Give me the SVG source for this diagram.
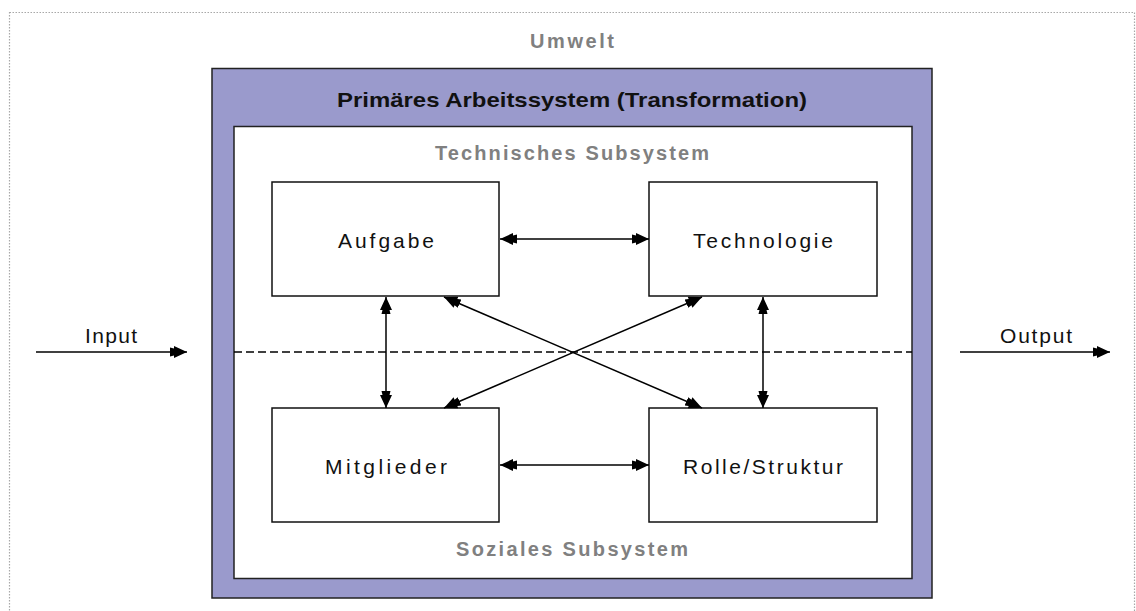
<svg xmlns="http://www.w3.org/2000/svg" width="1136" height="611" viewBox="0 0 1136 611">
<defs>
<marker id="ah" viewBox="0 0 17 12" refX="17" refY="6" markerWidth="17" markerHeight="12" markerUnits="userSpaceOnUse" orient="auto-start-reverse">
<path d="M0,1.5 L4,2.5 L4,0 L17,6 L4,12 L4,9.5 L0,10.5 Z" fill="#000"/>
</marker>
<style>
.lbl{font-family:"Liberation Sans",Arial,sans-serif;font-size:21px;fill:#111;text-anchor:middle}
.gray{font-family:"Liberation Sans",Arial,sans-serif;font-size:20px;font-weight:bold;fill:#808080;text-anchor:middle}
.box{fill:#fff;stroke:#111;stroke-width:1.5}
.conn line{stroke:#000;stroke-width:1.5}
</style>
</defs>
<rect width="1136" height="611" fill="#fff"/>
<g id="umwelt">
<rect x="9.5" y="12.5" width="1125" height="620" fill="none" stroke="#a8a8a8" stroke-width="1.2" stroke-dasharray="1.5 1.5"/>
<text class="gray" x="572" y="48" textLength="84" lengthAdjust="spacing">Umwelt</text>
</g>
<g id="primaer">
<rect x="212" y="68.5" width="720" height="529.5" fill="#9a9acc" stroke="#222" stroke-width="1.5"/>
<text x="572" y="107" font-family="'Liberation Sans',Arial,sans-serif" font-size="21" font-weight="bold" fill="#111" text-anchor="middle" textLength="470" lengthAdjust="spacingAndGlyphs">Primäres Arbeitssystem (Transformation)</text>
</g>
<g id="inner">
<rect x="234" y="126.5" width="678" height="452" fill="#fff" stroke="#222" stroke-width="1.5"/>
<text class="gray" x="572" y="160" textLength="274" lengthAdjust="spacing">Technisches Subsystem</text>
<text class="gray" x="572" y="556" textLength="232" lengthAdjust="spacing">Soziales Subsystem</text>
</g>
<g id="aufgabe">
<rect class="box" x="272" y="182" width="227" height="114"/>
<text class="lbl" x="386" y="248" textLength="96" lengthAdjust="spacing">Aufgabe</text>
</g>
<g id="technologie">
<rect class="box" x="649" y="182" width="228" height="114"/>
<text class="lbl" x="763" y="248" textLength="140" lengthAdjust="spacing">Technologie</text>
</g>
<g id="mitglieder">
<rect class="box" x="272" y="408" width="227" height="114"/>
<text class="lbl" x="386" y="474" textLength="122" lengthAdjust="spacing">Mitglieder</text>
</g>
<g id="rolle">
<rect class="box" x="649" y="408" width="228" height="114"/>
<text class="lbl" x="763" y="474" textLength="160" lengthAdjust="spacing">Rolle/Struktur</text>
</g>
<g id="io">
<text class="lbl" x="111" y="343" textLength="52" lengthAdjust="spacing">Input</text>
<text class="lbl" x="1036" y="343" textLength="72" lengthAdjust="spacing">Output</text>
</g>
<g id="connectors" class="conn">
<line x1="234" y1="352" x2="912" y2="352" stroke-dasharray="8 4"/>
<line x1="36" y1="352" x2="187" y2="352" marker-end="url(#ah)"/>
<line x1="960" y1="352" x2="1110" y2="352" marker-end="url(#ah)"/>
<line x1="500" y1="239" x2="649" y2="239" marker-start="url(#ah)" marker-end="url(#ah)"/>
<line x1="500" y1="465" x2="649" y2="465" marker-start="url(#ah)" marker-end="url(#ah)"/>
<line x1="386" y1="297" x2="386" y2="408" marker-start="url(#ah)" marker-end="url(#ah)"/>
<line x1="763" y1="297" x2="763" y2="408" marker-start="url(#ah)" marker-end="url(#ah)"/>
<line x1="444" y1="297" x2="702" y2="408" marker-start="url(#ah)" marker-end="url(#ah)"/>
<line x1="702" y1="297" x2="444" y2="408" marker-start="url(#ah)" marker-end="url(#ah)"/>
</g>
</svg>
